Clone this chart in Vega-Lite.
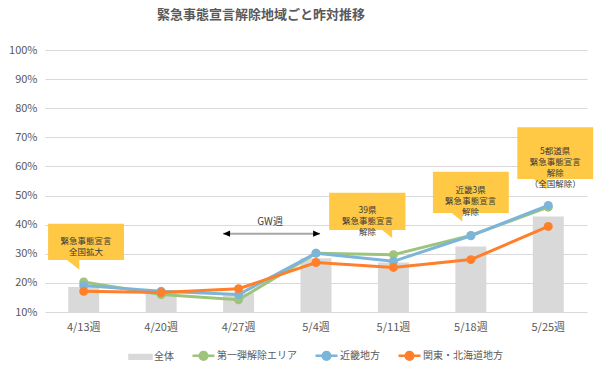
{
  "$schema": "https://vega.github.io/schema/vega-lite/v6.json",
  "autosize": "none",
  "width": 542,
  "height": 262,
  "padding": {"left": 45, "top": 50, "right": 13, "bottom": 61},
  "background": "white",
  "config": {
    "font": "Noto Sans CJK JP",
    "view": {"stroke": null},
    "axis": {"labelFont": "Noto Sans CJK JP", "labelColor": "#595959", "labelFontSize": 11, "domain": false, "ticks": false, "title": null, "labelOverlap": false, "labelFlush": false}
  },
  "title": {"text": "緊急事態宣言解除地域ごと昨対推移", "font": "Noto Sans CJK JP", "fontSize": 13, "fontWeight": "bold", "color": "#595959", "anchor": "middle", "dx": -55, "offset": 22},
  "datasets": {
    "main": [
      {"week": "4/13週", "series": "全体", "value": 0.186},
      {"week": "4/20週", "series": "全体", "value": 0.173},
      {"week": "4/27週", "series": "全体", "value": 0.165},
      {"week": "5/4週", "series": "全体", "value": 0.285},
      {"week": "5/11週", "series": "全体", "value": 0.27},
      {"week": "5/18週", "series": "全体", "value": 0.325},
      {"week": "5/25週", "series": "全体", "value": 0.428},
      {"week": "4/13週", "series": "第一弾解除エリア", "value": 0.203},
      {"week": "4/20週", "series": "第一弾解除エリア", "value": 0.16},
      {"week": "4/27週", "series": "第一弾解除エリア", "value": 0.142},
      {"week": "5/4週", "series": "第一弾解除エリア", "value": 0.302},
      {"week": "5/11週", "series": "第一弾解除エリア", "value": 0.297},
      {"week": "5/18週", "series": "第一弾解除エリア", "value": 0.363},
      {"week": "5/25週", "series": "第一弾解除エリア", "value": 0.46},
      {"week": "4/13週", "series": "近畿地方", "value": 0.191},
      {"week": "4/20週", "series": "近畿地方", "value": 0.171},
      {"week": "4/27週", "series": "近畿地方", "value": 0.16},
      {"week": "5/4週", "series": "近畿地方", "value": 0.302},
      {"week": "5/11週", "series": "近畿地方", "value": 0.274},
      {"week": "5/18週", "series": "近畿地方", "value": 0.362},
      {"week": "5/25週", "series": "近畿地方", "value": 0.466},
      {"week": "4/13週", "series": "関東・北海道地方", "value": 0.171},
      {"week": "4/20週", "series": "関東・北海道地方", "value": 0.167},
      {"week": "4/27週", "series": "関東・北海道地方", "value": 0.18},
      {"week": "5/4週", "series": "関東・北海道地方", "value": 0.27},
      {"week": "5/11週", "series": "関東・北海道地方", "value": 0.253},
      {"week": "5/18週", "series": "関東・北海道地方", "value": 0.28},
      {"week": "5/25週", "series": "関東・北海道地方", "value": 0.394}
    ],
    "boxes": [
      {"x1": 0.04, "x2": 1.02, "y1": 0.279, "y2": 0.403, "cx": 0.53, "cy": 0.345, "tx": 0.443, "ty": 0.245, "label": "緊急事態宣言\n全国拡大"},
      {"x1": 3.67, "x2": 4.655, "y1": 0.382, "y2": 0.51, "cx": 4.164, "cy": 0.451, "tx": 4.483, "ty": 0.354, "label": "39県\n緊急事態宣言\n解除"},
      {"x1": 5.01, "x2": 5.99, "y1": 0.44, "y2": 0.582, "cx": 5.497, "cy": 0.518, "tx": 5.39, "ty": 0.411, "label": "近畿3県\n緊急事態宣言\n解除"},
      {"x1": 6.10, "x2": 7.08, "y1": 0.557, "y2": 0.735, "cx": 6.589, "cy": 0.653, "tx": 6.48, "ty": 0.521, "label": "5都道県\n緊急事態宣言\n解除\n（全国解除）"}
    ],
    "arrow": [
      {"x1": 2.30, "x2": 3.553, "y": 0.369, "tx": 2.907, "ty": 0.41, "label": "GW週"}
    ]
  },
  "layer": [
    {
      "data": {"name": "main"},
      "encoding": {
        "x": {"field": "week", "type": "nominal", "sort": null,
              "scale": {"type": "band", "paddingInner": 0.6, "paddingOuter": 0.3},
              "axis": {"labelAngle": 0, "labelPadding": 9, "grid": false}},
        "y": {"field": "value", "type": "quantitative",
              "scale": {"domain": [0.1, 1.0], "nice": false, "zero": false},
              "axis": {"format": ".0%", "values": [0.1, 0.2, 0.3, 0.4, 0.5, 0.6, 0.7, 0.8, 0.9, 1.0], "grid": true, "gridColor": "#D9D9D9", "labelPadding": 8, "labelOverlap": false}},
        "color": {"field": "series", "type": "nominal",
                  "scale": {"domain": ["全体", "第一弾解除エリア", "近畿地方", "関東・北海道地方"], "range": ["#D9D9D9", "#9DC47A", "#7CB5D9", "#FF7F2A"]},
                  "legend": {
                    "title": null, "orient": "none", "direction": "horizontal", "legendX": 83, "legendY": 293,
                    "labelFont": "Noto Sans CJK JP", "labelFontSize": 10, "labelColor": "#595959",
                    "labelOffset": 1, "columnPadding": 13, "symbolSize": 484, "padding": 0,
                    "encode": {"symbols": {"update": {
                      "shape": {"signal": "datum.value === '全体' ? 'M-1,-0.17L1,-0.17L1,0.17L-1,0.17Z' : 'M-1,0L1,0M0.35,0A0.35,0.35,0,1,1,-0.35,0A0.35,0.35,0,1,1,0.35,0Z'"},
                      "fill": {"scale": "color", "field": "value"},
                      "stroke": {"scale": "color", "field": "value"},
                      "strokeWidth": {"value": 2.5},
                      "opacity": {"value": 1},
                      "fillOpacity": {"value": 1}
                    }}}
                  }}
      },
      "layer": [
        {"transform": [{"filter": "datum.series === '全体'"}],
         "mark": {"type": "bar", "clip": true},
         "encoding": {"y2": {"datum": 0.1}}},
        {"transform": [{"filter": "datum.series !== '全体'"}],
         "mark": {"type": "line", "strokeWidth": 3, "point": {"filled": true, "size": 80, "opacity": 1}}}
      ]
    },
    {
      "layer": [
        {"data": {"name": "boxes"},
         "mark": {"type": "rect", "fill": "#FFC845"},
         "encoding": {
           "x": {"field": "x1", "type": "quantitative", "scale": {"domain": [0, 7], "nice": false, "zero": false}, "axis": null},
           "x2": {"field": "x2"},
           "y": {"field": "y1", "type": "quantitative", "scale": {"domain": [0.1, 1.0], "nice": false, "zero": false}, "axis": null},
           "y2": {"field": "y2"}
         }},
        {"data": {"name": "boxes"},
         "mark": {"type": "point", "shape": "M0,0L0,-1.2L-1.5,-1.2Z", "size": 400, "filled": true, "fill": "#FFC845", "stroke": null, "opacity": 1},
         "encoding": {
           "x": {"field": "tx", "type": "quantitative", "axis": null},
           "y": {"field": "ty", "type": "quantitative", "axis": null}
         }},
        {"data": {"name": "boxes"},
         "mark": {"type": "text", "font": "Noto Sans CJK JP", "fontSize": 8.5, "lineHeight": 11, "color": "#3A3A3A", "align": "center", "baseline": "middle", "lineBreak": "\n"},
         "encoding": {
           "x": {"field": "cx", "type": "quantitative", "axis": null},
           "y": {"field": "cy", "type": "quantitative", "axis": null},
           "text": {"field": "label"}
         }},
        {"data": {"name": "arrow"},
         "mark": {"type": "rule", "color": "#A6A6A6", "strokeWidth": 2},
         "encoding": {
           "x": {"field": "x1", "type": "quantitative", "axis": null},
           "x2": {"field": "x2"},
           "y": {"field": "y", "type": "quantitative", "axis": null}
         }},
        {"data": {"name": "arrow"},
         "mark": {"type": "point", "shape": "M0,0L1,-0.45L1,0.45Z", "size": 196, "filled": true, "fill": "#000000", "opacity": 1},
         "encoding": {
           "x": {"field": "x1", "type": "quantitative", "axis": null},
           "y": {"field": "y", "type": "quantitative", "axis": null}
         }},
        {"data": {"name": "arrow"},
         "mark": {"type": "point", "shape": "M0,0L-1,-0.45L-1,0.45Z", "size": 196, "filled": true, "fill": "#000000", "opacity": 1},
         "encoding": {
           "x": {"field": "x2", "type": "quantitative", "axis": null},
           "y": {"field": "y", "type": "quantitative", "axis": null}
         }},
        {"data": {"name": "arrow"},
         "mark": {"type": "text", "font": "Noto Sans CJK JP", "fontSize": 10, "color": "#404040", "align": "center", "baseline": "middle"},
         "encoding": {
           "x": {"field": "tx", "type": "quantitative", "axis": null},
           "y": {"field": "ty", "type": "quantitative", "axis": null},
           "text": {"field": "label"}
         }}
      ]
    }
  ],
  "resolve": {"scale": {"x": "independent", "y": "independent"}}
}
